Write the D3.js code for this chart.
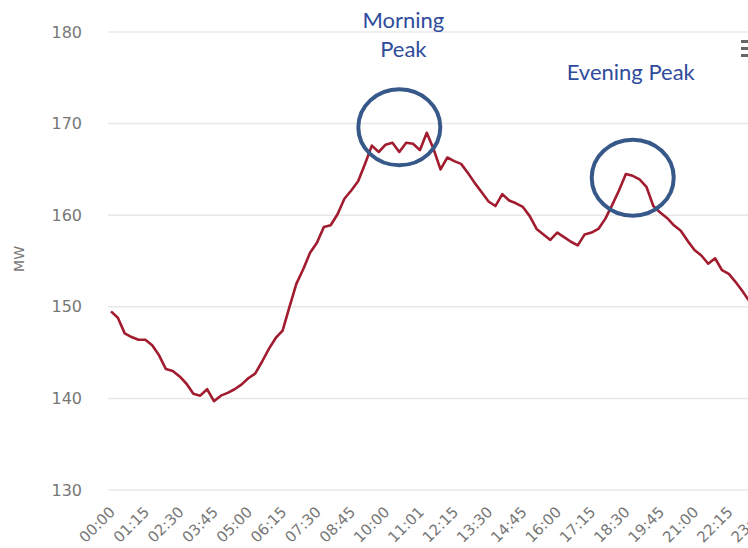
<!DOCTYPE html>
<html>
<head>
<meta charset="utf-8">
<script src="https://cdn.jsdelivr.net/npm/d3@7"></script>
<style>
  html, body { margin: 0; padding: 0; background: #fff; overflow: hidden; }
  svg { display: block; overflow: hidden; }
</style>
</head>
<body>
<div id="chart"></div>
<script>
// Time categories (one irregular stamp, 11:01, as in the source)
const times = [
  "00:00","00:15","00:30","00:45","01:00","01:15","01:30","01:45",
  "02:00","02:15","02:30","02:45","03:00","03:15","03:30","03:45",
  "04:00","04:15","04:30","04:45","05:00","05:15","05:30","05:45",
  "06:00","06:15","06:30","06:45","07:00","07:15","07:30","07:45",
  "08:00","08:15","08:30","08:45","09:00","09:15","09:30","09:45",
  "10:00","10:15","10:30","10:45","11:00","11:01","11:15","11:30",
  "11:45","12:00","12:15","12:30","12:45","13:00","13:15","13:30",
  "13:45","14:00","14:15","14:30","14:45","15:00","15:15","15:30",
  "15:45","16:00","16:15","16:30","16:45","17:00","17:15","17:30",
  "17:45","18:00","18:15","18:30","18:45","19:00","19:15","19:30",
  "19:45","20:00","20:15","20:30","20:45","21:00","21:15","21:30",
  "21:45","22:00","22:15","22:30","22:45","23:00","23:15","23:30",
  "23:45"
];

// Load in MW
const load = [
  149.5,148.8,147.1,146.7,146.4,146.4,145.8,144.7,143.2,143.0,
  142.4,141.6,140.5,140.3,141.0,139.7,140.3,140.6,141.0,141.5,
  142.2,142.7,144.0,145.4,146.6,147.4,150.0,152.5,154.1,155.9,
  157.0,158.7,158.9,160.1,161.8,162.7,163.7,165.6,167.6,166.9,
  167.7,167.9,166.9,167.9,167.8,167.1,169.0,167.2,165.0,166.3,
  165.9,165.6,164.6,163.5,162.5,161.5,161.0,162.3,161.6,161.3,
  160.9,159.9,158.5,157.9,157.3,158.1,157.6,157.1,156.7,157.9,
  158.1,158.5,159.6,161.1,162.7,164.5,164.3,163.9,163.1,161.0,
  160.3,159.7,158.9,158.3,157.2,156.2,155.6,154.7,155.3,154.0,
  153.6,152.7,151.7,150.6,149.8,149.2,148.6
];

const yTicks = [130, 140, 150, 160, 170, 180];
const labelStep = 5;

// circled peaks: centre given as a category and a value
const peaks = [
  { lines: ["Morning", "Peak"], at: "10:30", value: 169.6, textY: 28, textDx: 4 },
  { lines: ["Evening Peak"], at: "18:45", value: 164.1, textY: 80, textDx: -2 }
];

const width = 748, height = 548;

const svg = d3.select("#chart")
    .append("svg")
    .attr("width", width)
    .attr("height", height);

const x = d3.scalePoint().domain(times).range([111, 770]);
const y = d3.scaleLinear().domain([130, 180]).range([490, 32]);

// grid
svg.append("g")
    .selectAll("line")
    .data(yTicks)
    .join("line")
    .attr("x1", 108)
    .attr("x2", width)
    .attr("y1", d => y(d))
    .attr("y2", d => y(d))
    .attr("stroke", "#e8e8e8")
    .attr("stroke-width", 1.5);

// y axis labels
svg.append("g")
    .selectAll("text")
    .data(yTicks)
    .join("text")
    .attr("x", 82)
    .attr("y", d => y(d))
    .attr("dy", "0.35em")
    .attr("text-anchor", "end")
    .attr("fill", "#777")
    .style("font-family", "'DejaVu Sans', sans-serif")
    .style("font-size", "16px")
    .text(d => d);

svg.append("text")
    .attr("transform", "translate(24,259) rotate(-90)")
    .attr("text-anchor", "middle")
    .attr("fill", "#777")
    .style("font-family", "'DejaVu Sans', sans-serif")
    .style("font-size", "14px")
    .text("MW");

// x axis labels
const shown = times.filter((t, i) => i % labelStep === 0);
svg.append("g")
    .selectAll("text")
    .data(shown)
    .join("text")
    .attr("transform", d => `translate(${x(d) + 5},${513}) rotate(-45)`)
    .attr("text-anchor", "end")
    .attr("fill", "#777")
    .style("font-family", "'DejaVu Sans', sans-serif")
    .style("font-size", "15px")
    .text(d => d);

// load line
const line = d3.line()
    .x((d, i) => x(times[i]))
    .y(d => y(d));

svg.append("path")
    .datum(load)
    .attr("fill", "none")
    .attr("stroke", "#a01c2e")
    .attr("stroke-width", 2.6)
    .attr("stroke-linejoin", "round")
    .attr("d", line);

// peak annotations
svg.append("g")
    .selectAll("ellipse")
    .data(peaks)
    .join("ellipse")
    .attr("cx", d => x(d.at))
    .attr("cy", d => y(d.value))
    .attr("rx", 41)
    .attr("ry", 38)
    .attr("fill", "none")
    .attr("stroke", "#37598a")
    .attr("stroke-width", 4);

const notes = svg.append("g")
    .selectAll("text")
    .data(peaks)
    .join("text")
    .attr("text-anchor", "middle")
    .attr("fill", "#2f4c9c")
    .style("font-family", "Lato, 'Open Sans', sans-serif")
    .style("font-size", "22px")
    .attr("transform", d => `translate(${x(d.at) + d.textDx},${d.textY})`);

notes.selectAll("tspan")
    .data(d => d.lines)
    .join("tspan")
    .attr("x", 0)
    .attr("dy", (d, i) => i === 0 ? 0 : 29)
    .text(d => d);

// menu icon, clipped at the right edge
svg.append("g")
    .selectAll("rect")
    .data([0, 1, 2])
    .join("rect")
    .attr("x", 741)
    .attr("y", d => 40 + d * 7)
    .attr("width", 12)
    .attr("height", 3)
    .attr("fill", "#666");
</script>
</body>
</html>
